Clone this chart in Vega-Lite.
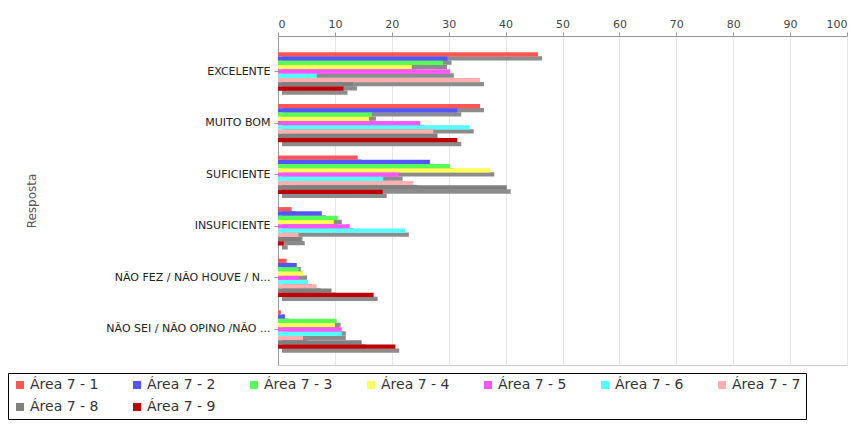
{
  "$schema": "https://vega.github.io/schema/vega-lite/v6.json",
  "width": 569,
  "height": 329,
  "autosize": {"type": "none"},
  "padding": {"left": 278, "top": 36, "right": 16, "bottom": 65},
  "background": "white",
  "config": {"view": {"stroke": "#c8c8c8"}},
  "data": {"values": [
    {"resposta": "EXCELENTE", "area": "Área 7 - 1", "valor": 45.7},
    {"resposta": "EXCELENTE", "area": "Área 7 - 2", "valor": 29.8},
    {"resposta": "EXCELENTE", "area": "Área 7 - 3", "valor": 29},
    {"resposta": "EXCELENTE", "area": "Área 7 - 4", "valor": 23.5},
    {"resposta": "EXCELENTE", "area": "Área 7 - 5", "valor": 30.2},
    {"resposta": "EXCELENTE", "area": "Área 7 - 6", "valor": 6.8},
    {"resposta": "EXCELENTE", "area": "Área 7 - 7", "valor": 35.5},
    {"resposta": "EXCELENTE", "area": "Área 7 - 8", "valor": 13.2},
    {"resposta": "EXCELENTE", "area": "Área 7 - 9", "valor": 11.5},
    {"resposta": "MUITO BOM", "area": "Área 7 - 1", "valor": 35.5},
    {"resposta": "MUITO BOM", "area": "Área 7 - 2", "valor": 31.5},
    {"resposta": "MUITO BOM", "area": "Área 7 - 3", "valor": 16.5},
    {"resposta": "MUITO BOM", "area": "Área 7 - 4", "valor": 16},
    {"resposta": "MUITO BOM", "area": "Área 7 - 5", "valor": 25},
    {"resposta": "MUITO BOM", "area": "Área 7 - 6", "valor": 33.7},
    {"resposta": "MUITO BOM", "area": "Área 7 - 7", "valor": 27.3},
    {"resposta": "MUITO BOM", "area": "Área 7 - 8", "valor": 28},
    {"resposta": "MUITO BOM", "area": "Área 7 - 9", "valor": 31.5},
    {"resposta": "SUFICIENTE", "area": "Área 7 - 1", "valor": 14},
    {"resposta": "SUFICIENTE", "area": "Área 7 - 2", "valor": 26.7},
    {"resposta": "SUFICIENTE", "area": "Área 7 - 3", "valor": 30.2},
    {"resposta": "SUFICIENTE", "area": "Área 7 - 4", "valor": 37.3},
    {"resposta": "SUFICIENTE", "area": "Área 7 - 5", "valor": 21.2},
    {"resposta": "SUFICIENTE", "area": "Área 7 - 6", "valor": 18.5},
    {"resposta": "SUFICIENTE", "area": "Área 7 - 7", "valor": 23.8},
    {"resposta": "SUFICIENTE", "area": "Área 7 - 8", "valor": 40.2},
    {"resposta": "SUFICIENTE", "area": "Área 7 - 9", "valor": 18.4},
    {"resposta": "INSUFICIENTE", "area": "Área 7 - 1", "valor": 2.4},
    {"resposta": "INSUFICIENTE", "area": "Área 7 - 2", "valor": 7.7},
    {"resposta": "INSUFICIENTE", "area": "Área 7 - 3", "valor": 10.5},
    {"resposta": "INSUFICIENTE", "area": "Área 7 - 4", "valor": 9.8},
    {"resposta": "INSUFICIENTE", "area": "Área 7 - 5", "valor": 12.6},
    {"resposta": "INSUFICIENTE", "area": "Área 7 - 6", "valor": 22.3},
    {"resposta": "INSUFICIENTE", "area": "Área 7 - 7", "valor": 3.6},
    {"resposta": "INSUFICIENTE", "area": "Área 7 - 8", "valor": 4},
    {"resposta": "INSUFICIENTE", "area": "Área 7 - 9", "valor": 1.0},
    {"resposta": "NÃO FEZ / NÃO HOUVE / N...", "area": "Área 7 - 1", "valor": 1.5},
    {"resposta": "NÃO FEZ / NÃO HOUVE / N...", "area": "Área 7 - 2", "valor": 3.3},
    {"resposta": "NÃO FEZ / NÃO HOUVE / N...", "area": "Área 7 - 3", "valor": 3.6},
    {"resposta": "NÃO FEZ / NÃO HOUVE / N...", "area": "Área 7 - 4", "valor": 4.4},
    {"resposta": "NÃO FEZ / NÃO HOUVE / N...", "area": "Área 7 - 5", "valor": 3.6},
    {"resposta": "NÃO FEZ / NÃO HOUVE / N...", "area": "Área 7 - 6", "valor": 5.3},
    {"resposta": "NÃO FEZ / NÃO HOUVE / N...", "area": "Área 7 - 7", "valor": 6.8},
    {"resposta": "NÃO FEZ / NÃO HOUVE / N...", "area": "Área 7 - 8", "valor": 9.4},
    {"resposta": "NÃO FEZ / NÃO HOUVE / N...", "area": "Área 7 - 9", "valor": 16.8},
    {"resposta": "NÃO SEI / NÃO OPINO /NÃO ...", "area": "Área 7 - 1", "valor": 0.5},
    {"resposta": "NÃO SEI / NÃO OPINO /NÃO ...", "area": "Área 7 - 2", "valor": 1.2},
    {"resposta": "NÃO SEI / NÃO OPINO /NÃO ...", "area": "Área 7 - 3", "valor": 10.3},
    {"resposta": "NÃO SEI / NÃO OPINO /NÃO ...", "area": "Área 7 - 4", "valor": 10},
    {"resposta": "NÃO SEI / NÃO OPINO /NÃO ...", "area": "Área 7 - 5", "valor": 11.2},
    {"resposta": "NÃO SEI / NÃO OPINO /NÃO ...", "area": "Área 7 - 6", "valor": 11.2},
    {"resposta": "NÃO SEI / NÃO OPINO /NÃO ...", "area": "Área 7 - 7", "valor": 4.4},
    {"resposta": "NÃO SEI / NÃO OPINO /NÃO ...", "area": "Área 7 - 8", "valor": 14.7},
    {"resposta": "NÃO SEI / NÃO OPINO /NÃO ...", "area": "Área 7 - 9", "valor": 20.6}
  ]},
  "encoding": {
    "y": {
      "field": "resposta", "type": "nominal",
      "sort": ["EXCELENTE", "MUITO BOM", "SUFICIENTE", "INSUFICIENTE", "NÃO FEZ / NÃO HOUVE / N...", "NÃO SEI / NÃO OPINO /NÃO ..."],
      "scale": {"paddingInner": 0.256, "paddingOuter": 0.316},
      "axis": {
        "title": "Resposta", "titleFont": "DejaVu Sans", "titleFontSize": 12, "titleFontWeight": "normal",
        "titleColor": "#555555", "titleX": -240, "titleY": 164.5,
        "labelFont": "DejaVu Sans", "labelFontSize": 11, "labelColor": "#222222", "labelLimit": 260,
        "tickSize": 4, "labelPadding": 4, "tickColor": "#999999", "domainColor": "#999999", "grid": false
      }
    },
    "x": {
      "field": "valor", "type": "quantitative",
      "scale": {"domain": [0, 100], "nice": false},
      "axis": {
        "orient": "top", "title": null, "values": [0, 10, 20, 30, 40, 50, 60, 70, 80, 90, 100],
        "labelFont": "DejaVu Sans", "labelFontSize": 11, "labelColor": "#444444",
        "tickSize": 4, "labelPadding": 3, "tickColor": "#999999", "domainColor": "#999999",
        "grid": true, "gridColor": "#e6e6e6"
      }
    }
  },
  "layer": [
    {
      "mark": {"type": "bar", "color": "#8c8c8c", "xOffset": 4},
      "encoding": {
        "yOffset": {"field": "area", "type": "nominal", "scale": {"range": [4, 42.4], "paddingInner": 0, "paddingOuter": 0}}
      }
    },
    {
      "mark": {"type": "bar"},
      "encoding": {
        "yOffset": {"field": "area", "type": "nominal", "scale": {"range": [0, 38.4], "paddingInner": 0, "paddingOuter": 0}},
        "color": {
          "field": "area", "type": "nominal",
          "scale": {
            "domain": ["Área 7 - 1", "Área 7 - 2", "Área 7 - 3", "Área 7 - 4", "Área 7 - 5", "Área 7 - 6", "Área 7 - 7", "Área 7 - 8", "Área 7 - 9"],
            "range": ["#ff5555", "#5555ff", "#55ff55", "#ffff55", "#ff55ff", "#55ffff", "#ffafaf", "#808080", "#c00000"]
          },
          "legend": {
            "orient": "none", "legendX": -270, "legendY": 337, "direction": "horizontal", "columns": 7,
            "title": null, "symbolType": "square", "symbolSize": 64, "symbolStrokeWidth": 0,
            "labelFont": "DejaVu Sans", "labelFontSize": 14, "labelColor": "#333333", "labelOffset": 3,
            "strokeColor": "#000000", "fillColor": "#ffffff", "padding": 5, "columnPadding": 31, "rowPadding": 8
          }
        }
      }
    }
  ],
  "resolve": {"scale": {"yOffset": "independent"}}
}
